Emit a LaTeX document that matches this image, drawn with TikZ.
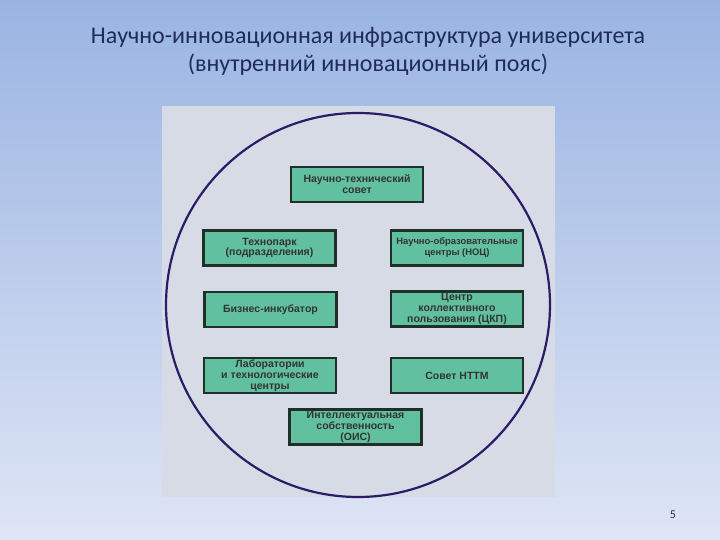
\documentclass[tikz,border=0pt]{standalone}
\usepackage{fontspec}
\setmainfont{Carlito}
\newfontfamily\boxfont{Liberation Sans}
\usetikzlibrary{positioning}

\definecolor{skytop}{RGB}{154,180,226}
\definecolor{skybottom}{RGB}{222,229,245}
\definecolor{titleblue}{RGB}{30,44,92}
\definecolor{panelgray}{RGB}{214,219,230}
\definecolor{ringviolet}{RGB}{44,28,104}
\definecolor{unitgreen}{RGB}{96,192,160}
\definecolor{unitline}{RGB}{32,48,40}

\begin{document}
\begin{tikzpicture}[
  x=1pt, y=1pt,
  unit/.style={draw=unitline, line width=2.2pt, fill=unitgreen, align=center,
    minimum width=132pt, minimum height=35pt, inner sep=1pt, text=black!80,
    font=\boxfont\bfseries\fontsize{10.5}{10.8}\selectfont},
  heading/.style={align=center, text=titleblue, font=\fontsize{24}{28}\selectfont}
]
\useasboundingbox (0,0) rectangle (720,-540);
\shade[top color=skytop, bottom color=skybottom] (0,0) rectangle (720,-540);

% panel with the ring
\fill[panelgray] (162,-106) rectangle (555,-497);
\draw[ringviolet, line width=2.2pt] (358,-305) circle (192);

\node[heading] (title) at (368,-51)
  {Научно-инновационная инфраструктура университета\\(внутренний инновационный пояс)};

% units of the belt
\node[unit] (council) at (357,-184.5) {Научно-технический\\совет};
\node[unit] (technopark) at (269.5,-248) {Технопарк\\(подразделения)};
\node[unit, font=\boxfont\bfseries\fontsize{9.4}{11}\selectfont] (noc) at (457,-248)
  {Научно-образовательные\\центры (НОЦ)};
\node[unit] (incubator) at (270.5,-309.5) {Бизнес-инкубатор};
\node[unit] (ckp) at (457,-309) {Центр\\коллективного\\пользования (ЦКП)};
\node[unit] (labs) at (270,-375.5) {Лаборатории\\и технологические\\центры};
\node[unit] (nttm) at (457,-375.5) {Совет НТТМ};
\node[unit] (ois) at (355.5,-427) {Интеллектуальная\\собственность\\(ОИС)};

\node[text=titleblue, font=\fontsize{12}{14}\selectfont] (page) at (673,-515) {5};
\end{tikzpicture}
\end{document}
